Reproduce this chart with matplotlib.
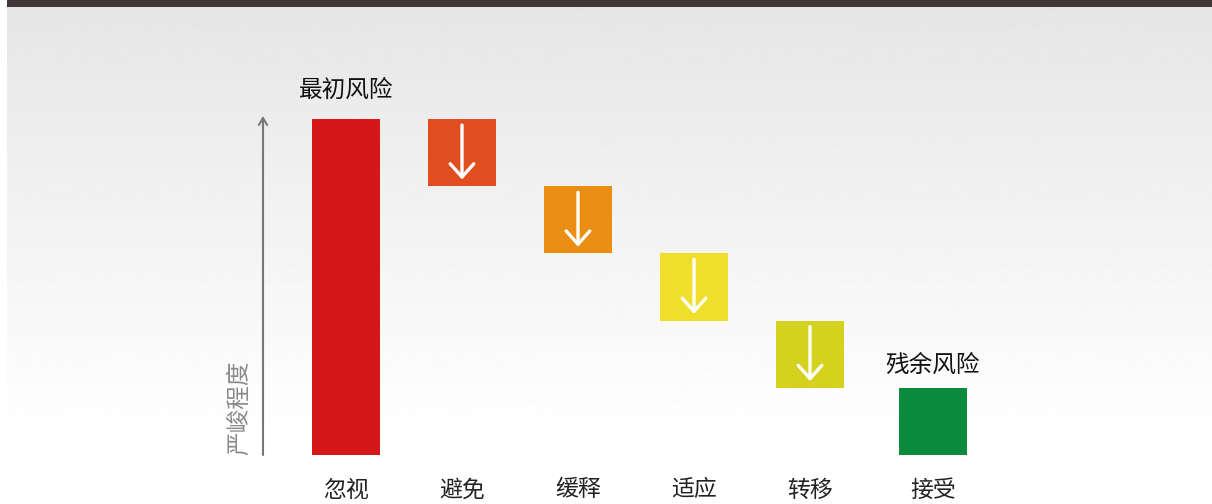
import numpy as np
import matplotlib
matplotlib.use('Agg')
import matplotlib.pyplot as plt
from matplotlib.patches import Rectangle

plt.rcParams['font.family'] = ['Noto Sans CJK SC', 'DejaVu Sans']

categories = ['忽视', '避免', '缓释', '适应', '转移', '接受']
initial_risk = 5
reductions = [1, 1, 1, 1]
residual_risk = 1
colors = ['#d4181a', '#e04e20', '#e98d13', '#f0df2a', '#d4d21f', '#0b8a3c']
top_labels = ['最初风险', '残余风险']
axis_label = '严峻程度'

fig = plt.figure(figsize=(12.12, 5.04), dpi=100)
ax = fig.add_axes([0, 0, 1, 1])

# pixel mapping: index 0 at x=346, 116px per step; y=0 at pixel 455, 67.2px per unit
px_x, px_y = 116.0, 67.2
xlim = (-346 / px_x, (1212 - 346) / px_x)
ylim = (-(504 - 455) / px_y, 455 / px_y)

# gradient background: white at the bottom, light grey at the top
grad = np.clip(np.linspace(1.015, 0.9, 256), 0, 1).reshape(-1, 1)
ax.imshow(grad, cmap='gray', vmin=0, vmax=1, aspect='auto',
          extent=[xlim[0], xlim[1], ylim[0], ylim[1]], origin='lower', zorder=0)
ax.set_xlim(*xlim)
ax.set_ylim(*ylim)
ax.axis('off')

# left white strip and top dark band
ax.add_patch(Rectangle((0, 0), 7 / 1212, 1, transform=ax.transAxes,
                       facecolor='white', edgecolor='none', zorder=1))
ax.add_patch(Rectangle((7 / 1212, 1 - 7 / 504), 1, 7 / 504, transform=ax.transAxes,
                       facecolor='#3e3838', edgecolor='none', zorder=1))

x = np.arange(len(categories), dtype=float)
x[-1] += 0.06
width = 68 / px_x

# waterfall values
bottoms = [0]
heights = [initial_risk]
level = initial_risk
for r in reductions:
    bottoms.append(level - r)
    heights.append(r)
    level -= r
bottoms.append(0)
heights.append(residual_risk)

ax.bar(x, heights, bottom=bottoms, width=width, color=colors, zorder=2)

# arrows inside reduction boxes
for i in range(1, len(reductions) + 1):
    top = bottoms[i] + heights[i]
    bot = bottoms[i]
    ax.annotate('', xy=(x[i], bot + 0.1), xytext=(x[i], top - 0.09),
                arrowprops=dict(arrowstyle='->,head_length=0.95,head_width=0.85',
                                color='white', lw=2.4, shrinkA=0, shrinkB=0),
                zorder=3)

# severity axis
ax_x = (263 - 346) / px_x
ax.annotate('', xy=(ax_x, (455 - 116) / px_y), xytext=(ax_x, 0),
            arrowprops=dict(arrowstyle='->,head_length=0.5,head_width=0.3',
                            color='#777777', lw=1.5, shrinkA=0, shrinkB=0),
            zorder=3)
ax.text((240 - 346) / px_x, 0, axis_label, rotation=90, ha='center', va='bottom',
        fontsize=17, color='#8a8a8a', zorder=3)

for xi, c in zip(x, categories):
    ax.text(xi, (455 - 490) / px_y, c, ha='center', va='center',
            fontsize=16.5, color='#222222', zorder=3)

ax.text(x[0], initial_risk + 0.43, top_labels[0], ha='center', va='center',
        fontsize=17, color='#111111', zorder=3)
ax.text(x[-1], residual_risk + 0.34, top_labels[1], ha='center', va='center',
        fontsize=17, color='#111111', zorder=3)

fig.savefig('out.png', dpi=100)
